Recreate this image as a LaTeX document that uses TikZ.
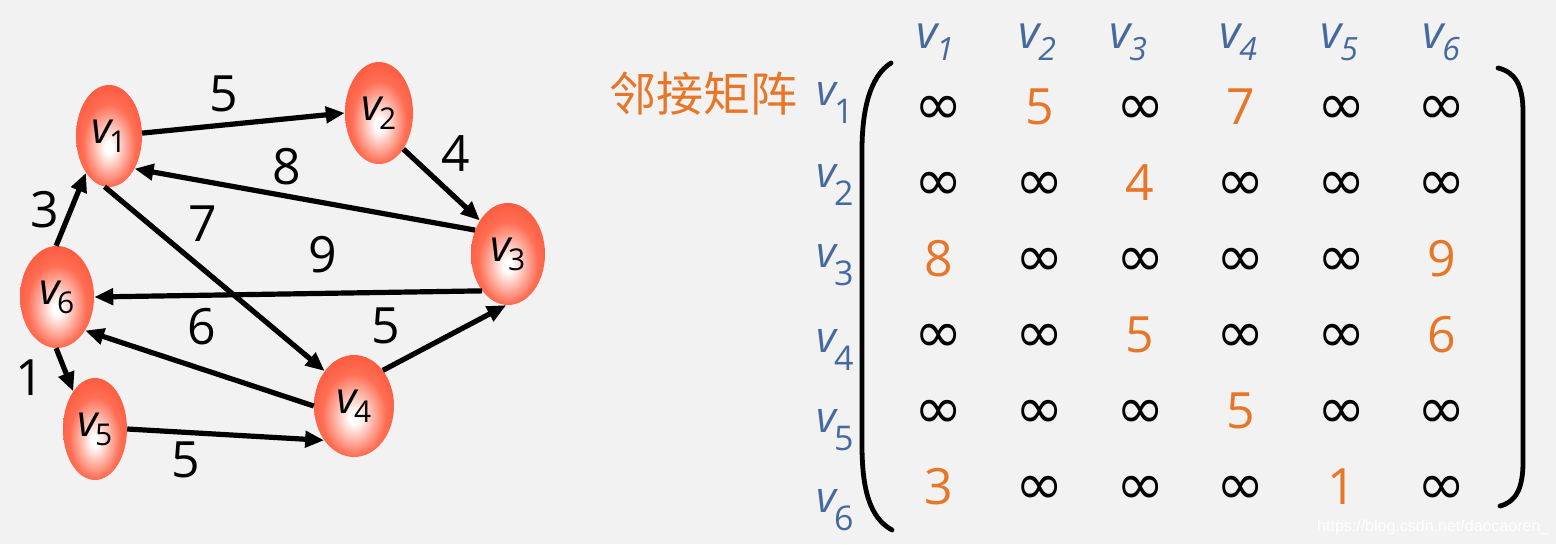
\documentclass[tikz,border=0pt]{standalone}
\usepackage{fontspec}
\setmainfont{Open Sans}
\newfontfamily\cjkfont{Noto Sans CJK SC}
\newfontfamily\symfont{DejaVu Sans}
\newfontfamily\wmfont{Liberation Sans}
\usetikzlibrary{shapes.geometric,arrows.meta}
\definecolor{bgc}{RGB}{242,242,242}
\definecolor{vblue}{RGB}{70,106,158}
\definecolor{orng}{RGB}{232,118,40}
\definecolor{nodeedge}{RGB}{236,58,28}
\definecolor{nodeouter}{RGB}{252,76,46}
\definecolor{nodemid}{RGB}{255,110,84}
\pgfdeclareradialshading{nodeball}{\pgfpoint{0bp}{-6bp}}{color(0bp)=(white); color(3bp)=(white); color(20bp)=(nodemid); color(36bp)=(nodeouter); color(52bp)=(nodeedge); color(70bp)=(nodeedge)}
\newcommand\gvlab[1]{{\itshape v}\kern-3pt\raisebox{-9pt}{\fontsize{30}{30}\selectfont #1}}
\newcommand\rowlab[1]{{\itshape v}\kern-2pt\raisebox{-18pt}{\fontsize{34}{34}\selectfont #1}}
\newcommand\collab[1]{{\itshape v}\kern-1pt\raisebox{-12pt}{\fontsize{32}{32}\selectfont\itshape #1}}
\newcommand\infcell{{\symfont\fontsize{58}{58}\selectfont\color{black}∞}}
\tikzset{
  vert/.style={ellipse, shading=nodeball, inner sep=0pt, font=\fontsize{44}{44}\selectfont},
  arc/.style={line width=5.2pt, -{Triangle[length=19pt,width=16pt]}},
  elab/.style={font=\fontsize{50}{50}\selectfont, inner sep=0pt},
  cell/.style={font=\fontsize{50}{50}\selectfont, text=orng, inner sep=0pt, anchor=base},
  hlab/.style={font=\fontsize{46}{46}\selectfont, text=vblue, inner sep=0pt, anchor=base},
  rlab/.style={font=\fontsize{43}{43}\selectfont, text=vblue, inner sep=0pt, anchor=base west},
  brk/.style={line width=4.8pt, line cap=round}
}
\begin{document}
\begin{tikzpicture}[x=1pt,y=-1pt]
\fill[bgc] (0,0) rectangle (1556,544);
\useasboundingbox (0,0) rectangle (1556,544);
% graph vertices
\node[vert, minimum width=66pt, minimum height=102pt] (v1) at (109,136) {\gvlab{1}};
\node[vert, minimum width=68pt, minimum height=102pt] (v2) at (379,113) {\gvlab{2}};
\node[vert, minimum width=74pt, minimum height=102pt] (v3) at (508,254) {\gvlab{3}};
\node[vert, minimum width=80pt, minimum height=102pt] (v4) at (354,406) {\gvlab{4}};
\node[vert, minimum width=64pt, minimum height=102pt] (v5) at (95,429) {\gvlab{5}};
\node[vert, minimum width=74pt, minimum height=102pt] (v6) at (57,297) {\gvlab{6}};
% arcs
\draw[arc] (v1.5) -- (v2.180);
\draw[arc] (v2.304) -- (v3.130);
\draw[arc] (v3.144) -- (v1.308);
\draw[arc] (v1.265) -- (v4.130);
\draw[arc] (v3.235) -- (v6.0);
\draw[arc] (v4.180) -- (v6.310);
\draw[arc] (v4.51) -- (v3.268);
\draw[arc] (v6.91) -- (v1.238);
\draw[arc] (v6.269) -- (v5.120);
\draw[arc] (v5.0) -- (v4.229);
% arc weights
\node[elab] (w12) at (224,94) {5};
\node[elab] (w31) at (287,167) {8};
\node[elab] (w23) at (456,154) {4};
\node[elab] (w61) at (45,210) {3};
\node[elab] (w14) at (203,224) {7};
\node[elab] (w36) at (323,255) {9};
\node[elab] (w46) at (202,327) {6};
\node[elab] (w43) at (386,326) {5};
\node[elab] (w65) at (30,378) {1};
\node[elab] (w54) at (186,460) {5};
% title
\node[text=orng, inner sep=0pt, font=\cjkfont\fontsize{47}{47}\selectfont] (title) at (703,94) {邻接矩阵};
% column labels
\foreach \c/\xx in {1/935,2/1037,3/1128,4/1238,5/1339,6/1441}
  \node[hlab] (h\c) at (\xx,48) {\collab{\c}};
% row labels
\foreach \r/\yy in {1/105,2/187,3/267,4/352,5/432,6/512}
  \node[rlab] (r\r) at (816,\yy) {\rowlab{\r}};
% matrix cells
\foreach \r/\yy/\entries in {
  1/124/{\infcell,5,\infcell,7,\infcell,\infcell},
  2/200/{\infcell,\infcell,4,\infcell,\infcell,\infcell},
  3/276/{8,\infcell,\infcell,\infcell,\infcell,9},
  4/352/{\infcell,\infcell,5,\infcell,\infcell,6},
  5/428/{\infcell,\infcell,\infcell,5,\infcell,\infcell},
  6/504/{3,\infcell,\infcell,\infcell,1,\infcell}}
{
  \foreach \e [count=\c] in \entries
    \node[cell] (m\r\c) at ({838.4+100.6*\c},\yy) {\e};
}
% brackets
\draw[brk] (891,63) .. controls (870,76) and (862,110) .. (862,150) -- (862,445) .. controls (862,490) and (870,518) .. (892,530);
\draw[brk] (1498,68) .. controls (1515,72) and (1523,85) .. (1523,112) -- (1523,462) .. controls (1523,490) and (1515,502) .. (1500,506);
% watermark
\node[anchor=base west, inner sep=0pt, text=white, font=\wmfont\fontsize{16}{16}\selectfont] (wm) at (1317,531) {https://blog.csdn.net/daocaoren\_};
\end{tikzpicture}
\end{document}
